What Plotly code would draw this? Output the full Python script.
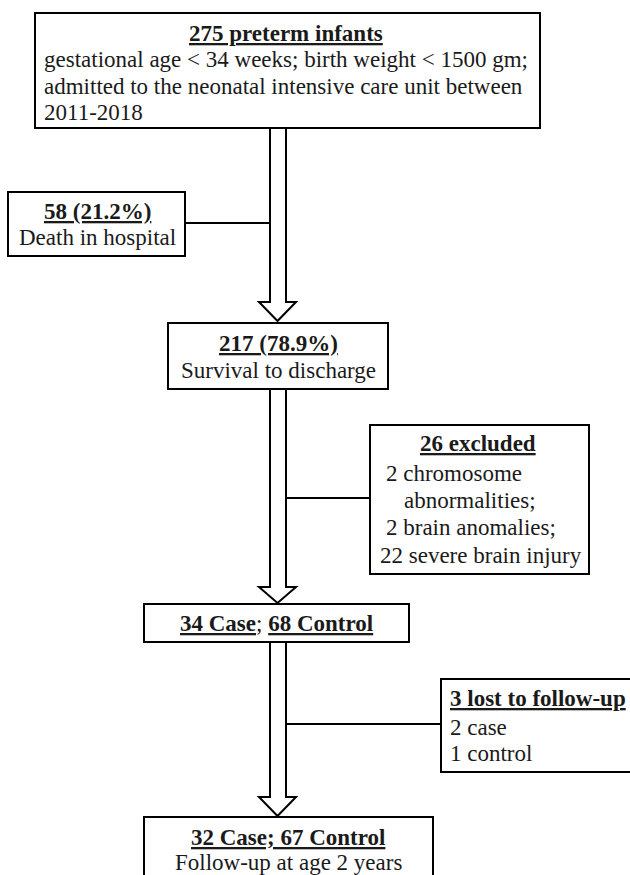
import plotly.graph_objects as go

total_infants = 275
deaths = 58
death_pct = 21.2
survivors = 217
survivor_pct = 78.9
excluded = 26
excl_counts = [2, 2, 22]
excl_reasons = ["chromosome", "brain anomalies;", "severe brain injury"]
study_groups = ["Case", "Control"]
enrolled = [34, 68]
lost = 3
lost_counts = [2, 1]
followed = [32, 67]

W, H = 630, 875
FONT = "Liberation Serif"
FS = 23
INK = "#1a1a1a"

fig = go.Figure()
shapes = []
annots = []


def box(x0, y0, x1, y1):
    shapes.append(dict(type="rect", x0=x0, y0=y0, x1=x1, y1=y1,
                       line=dict(color="black", width=2), fillcolor="white",
                       xref="x", yref="y", layer="below"))


def line(x0, y0, x1, y1):
    shapes.append(dict(type="line", x0=x0, y0=y0, x1=x1, y1=y1,
                       line=dict(color="black", width=2), xref="x", yref="y"))


def arrow(y0, head_top, tip, xl=270, xr=286, hl=259, hr=296):
    xc = (hl + hr) / 2
    path = (f"M {xl},{y0} L {xl},{head_top} L {hl},{head_top} L {xc},{tip} "
            f"L {hr},{head_top} L {xr},{head_top} L {xr},{y0}")
    shapes.append(dict(type="path", path=path, line=dict(color="black", width=2),
                       xref="x", yref="y"))


def text(x, y, s, anchor="center"):
    annots.append(dict(x=x, y=y, text=s, showarrow=False, xanchor=anchor,
                       yanchor="middle", xref="x", yref="y",
                       font=dict(family=FONT, size=FS, color=INK)))


# Box 1
box(35, 13, 540, 128)
text(286, 33, f"<b><u>{total_infants} preterm infants</u></b>")
text(42, 59, "gestational age &lt; 34 weeks; birth weight &lt; 1500 gm;", "left")
text(42, 86, "admitted to the neonatal intensive care unit between", "left")
text(42, 112, "2011-2018", "left")

# Arrow 1 and death box
arrow(128, 302, 321)
box(8, 192, 185, 256)
line(185, 223, 270, 223)
text(97, 211, f"<b><u>{deaths} ({death_pct}%)</u></b>")
text(97, 237, "Death in hospital")

# Box 3
box(168, 323, 388, 389)
text(278, 343, f"<b><u>{survivors} ({survivor_pct}%)</u></b>")
text(278, 370, "Survival to discharge")

# Arrow 2 and exclusion box
arrow(389, 587, 603)
box(370, 425, 589, 574)
line(286, 498, 370, 498)
text(478, 443, f"<b><u>{excluded} excluded</u></b>")
text(384, 473, f"{excl_counts[0]} {excl_reasons[0]}", "left")
text(402, 500, "abnormalities;", "left")
text(384, 527, f"{excl_counts[1]} {excl_reasons[1]}", "left")
text(378, 555, f"{excl_counts[2]} {excl_reasons[2]}", "left")

# Box 5
box(144, 604, 409, 642)
text(276, 623, f"<b><u>{enrolled[0]} {study_groups[0]}</u></b>; "
               f"<b><u>{enrolled[1]} {study_groups[1]}</u></b>")

# Arrow 3 and lost box
arrow(642, 797, 816)
box(441, 679, 645, 772)
line(286, 724, 441, 724)
text(448, 698, f"<b><u>{lost} lost to follow-up</u></b>", "left")
text(448, 727, f"{lost_counts[0]} {study_groups[0].lower()}", "left")
text(448, 753, f"{lost_counts[1]} {study_groups[1].lower()}", "left")

# Box 7
box(144, 817, 433, 900)
text(288, 837, f"<b><u>{followed[0]} {study_groups[0]}; {followed[1]} {study_groups[1]}</u></b>")
text(288, 862, "Follow-up at age 2 years")

fig.update_layout(
    width=W, height=H, margin=dict(l=0, r=0, t=0, b=0),
    paper_bgcolor="white", plot_bgcolor="white",
    xaxis=dict(range=[0, W], visible=False, fixedrange=True),
    yaxis=dict(range=[H, 0], visible=False, fixedrange=True),
    shapes=shapes, annotations=annots, showlegend=False,
)
fig.write_html(
    "out.html",
    config={"displayModeBar": False},
    post_script="document.body.style.margin='0';document.body.style.overflow='hidden';",
)
